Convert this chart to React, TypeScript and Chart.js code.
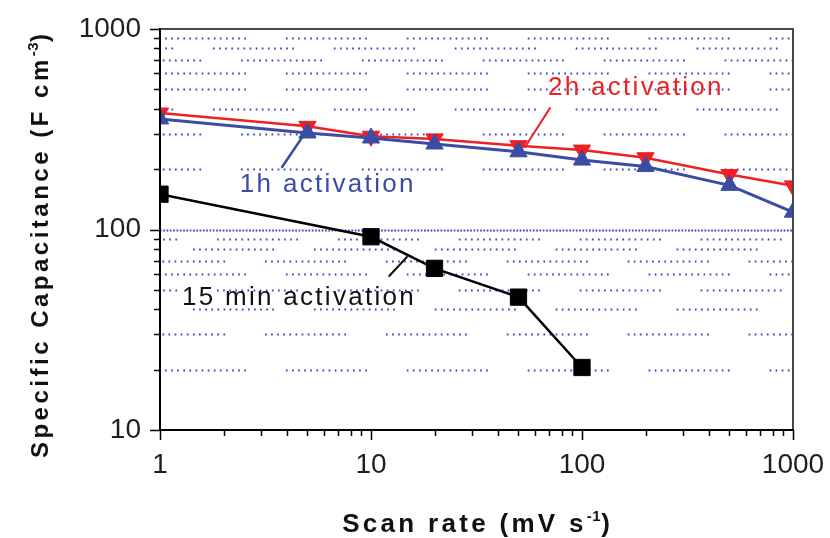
import React, { useEffect, useRef } from 'react';
import { Chart, registerables } from 'chart.js';

Chart.register(...registerables);

// ---- data ----
const scanRates = [1, 5, 10, 20, 50, 100, 200, 500, 1000];
const cap2h = [381, 327, 292, 283, 262, 249, 228, 188, 165];
const cap1h = [356, 303, 286, 267, 244, 222, 206, 166, 122];
const scanRates15 = [1, 10, 20, 50, 100];
const cap15min = [150, 92, 64, 46, 20.5];

const xMajorTicks = [1, 10, 100, 1000];
const yMajorTicks = [10, 100, 1000];
const minorMultipliers = [2, 3, 4, 5, 6, 7, 8, 9];

// annotation texts (anchored in data coordinates: left edge, baseline)
const annoTexts = [
  { text: '2h activation', x: 69, y: 469, color: '#ee1f25' },
  { text: '1h activation', x: 2.39, y: 154, color: '#3a4ca3' },
  { text: '15 min activation', x: 1.27, y: 42, color: '#111111' },
];
const annoLeaders = [
  { x1: 70.5, y1: 403, x2: 53.7, y2: 258, color: '#ee1f25', w: 2 },
  { x1: 4.87, y1: 303, x2: 3.79, y2: 205, color: '#3a4ca3', w: 2.5 },
  { x1: 14.8, y1: 72.9, x2: 12.2, y2: 58.6, color: '#111111', w: 2 },
];

// phases of the dotted background rows (decorative)
const upperPhases: Record<number, number> = { 900: 5, 800: 53, 700: 81, 600: 5, 500: 5, 400: 53, 300: 81, 200: 81 };
const lowerPhases: Record<number, number> = { 90: 57, 80: 33, 70: 105, 60: 5, 50: 57, 40: 33, 30: 105, 20: 5 };

const FONT = "'Liberation Sans', Arial, Helvetica, sans-serif";

type Part = { text: string; font: string; ls: number; rise?: number };

function measureParts(ctx: CanvasRenderingContext2D, parts: Part[]) {
  let w = 0;
  for (const p of parts) {
    ctx.font = p.font;
    (ctx as any).letterSpacing = p.ls + 'px';
    w += ctx.measureText(p.text).width;
  }
  return w;
}

function drawParts(ctx: CanvasRenderingContext2D, parts: Part[], x: number, y: number) {
  let cx = x;
  for (const p of parts) {
    ctx.font = p.font;
    (ctx as any).letterSpacing = p.ls + 'px';
    ctx.fillText(p.text, cx, y - (p.rise || 0));
    cx += ctx.measureText(p.text).width;
  }
}

const customPlugin = {
  id: 'custom',
  beforeDatasetsDraw(chart: any) {
    const { ctx, chartArea, scales } = chart;
    const y = scales.y;
    ctx.save();
    ctx.beginPath();
    ctx.rect(chartArea.left, chartArea.top, chartArea.right - chartArea.left, chartArea.bottom - chartArea.top);
    ctx.clip();
    ctx.strokeStyle = 'rgba(55,55,200,0.95)';
    ctx.lineWidth = 1.8;
    const dotPattern: number[] = [];
    for (let i = 0; i < 13; i++) dotPattern.push(1.7, 4.4);
    dotPattern.push(1.7, 39.9);
    const period = dotPattern.reduce((a, b) => a + b, 0);
    const drawRow = (v: number, phase: number) => {
      const py = Math.round(y.getPixelForValue(v)) + 0.5;
      ctx.setLineDash(dotPattern);
      ctx.lineDashOffset = period - phase;
      ctx.beginPath();
      ctx.moveTo(chartArea.left, py);
      ctx.lineTo(chartArea.right, py);
      ctx.stroke();
    };
    for (const m of minorMultipliers) {
      drawRow(m * 100, upperPhases[m * 100]);
      drawRow(m * 10, lowerPhases[m * 10]);
    }
    // the 100 line: dense dotted
    const p100 = Math.round(y.getPixelForValue(100)) + 0.5;
    ctx.setLineDash([1.7, 1.6]);
    ctx.lineDashOffset = 0;
    ctx.beginPath();
    ctx.moveTo(chartArea.left, p100);
    ctx.lineTo(chartArea.right, p100);
    ctx.stroke();
    ctx.restore();
  },
  afterDraw(chart: any) {
    const { ctx, chartArea, scales } = chart;
    const xs = scales.x;
    const ys = scales.y;
    const { left, right, top, bottom } = chartArea;
    ctx.save();
    ctx.setLineDash([]);
    // frame: top and right grey
    ctx.strokeStyle = '#4a4a4a';
    ctx.lineWidth = 2;
    ctx.beginPath();
    ctx.moveTo(left, top);
    ctx.lineTo(right, top);
    ctx.lineTo(right, bottom);
    ctx.stroke();
    // axes black
    ctx.strokeStyle = '#000';
    ctx.lineWidth = 2;
    ctx.beginPath();
    ctx.moveTo(left, top - 1);
    ctx.lineTo(left, bottom);
    ctx.lineTo(right + 1, bottom);
    ctx.stroke();
    // tick marks
    ctx.lineWidth = 1.5;
    const xTick = (v: number, len: number) => {
      const px = Math.round(xs.getPixelForValue(v)) + 0.5;
      ctx.beginPath();
      ctx.moveTo(px, bottom);
      ctx.lineTo(px, bottom + len);
      ctx.stroke();
    };
    const yTick = (v: number, len: number) => {
      const py = Math.round(ys.getPixelForValue(v)) + 0.5;
      ctx.beginPath();
      ctx.moveTo(left, py);
      ctx.lineTo(left - len, py);
      ctx.stroke();
    };
    for (const v of xMajorTicks) xTick(v, 10);
    for (const d of xMajorTicks.slice(0, -1)) for (const m of minorMultipliers) xTick(d * m, 6);
    for (const v of yMajorTicks) yTick(v, 10);
    for (const d of yMajorTicks.slice(0, -1)) for (const m of minorMultipliers) yTick(d * m, 6);

    // leader lines
    ctx.lineCap = 'round';
    for (const l of annoLeaders) {
      ctx.strokeStyle = l.color;
      ctx.lineWidth = l.w;
      ctx.beginPath();
      ctx.moveTo(xs.getPixelForValue(l.x1), ys.getPixelForValue(l.y1));
      ctx.lineTo(xs.getPixelForValue(l.x2), ys.getPixelForValue(l.y2));
      ctx.stroke();
    }
    // annotation texts
    ctx.textBaseline = 'alphabetic';
    ctx.textAlign = 'left';
    for (const a of annoTexts) {
      ctx.fillStyle = a.color;
      drawParts(ctx, [{ text: a.text, font: `26px ${FONT}`, ls: 2.3 }], xs.getPixelForValue(a.x), ys.getPixelForValue(a.y));
    }

    // axis titles
    ctx.fillStyle = '#111';
    const xParts: Part[] = [
      { text: 'Scan rate (mV s', font: `bold 26px ${FONT}`, ls: 3.3 },
      { text: '-1', font: `bold 15px ${FONT}`, ls: 0.5, rise: 11 },
      { text: ')', font: `bold 26px ${FONT}`, ls: 0 },
    ];
    const xw = measureParts(ctx, xParts);
    drawParts(ctx, xParts, 476 - xw / 2, 532);

    const yParts: Part[] = [
      { text: 'Specific Capacitance (F cm', font: `bold 24px ${FONT}`, ls: 3.5 },
      { text: '-3', font: `bold 15px ${FONT}`, ls: 0.5, rise: 10 },
      { text: ')', font: `bold 24px ${FONT}`, ls: 0 },
    ];
    const yw = measureParts(ctx, yParts);
    ctx.translate(48, 246);
    ctx.rotate(-Math.PI / 2);
    drawParts(ctx, yParts, -yw / 2, 0);
    ctx.restore();
  },
};

export default function App() {
  const canvasRef = useRef<HTMLCanvasElement | null>(null);

  useEffect(() => {
    document.body.style.margin = '0';
    const canvas = canvasRef.current;
    if (!canvas) return;
    Chart.defaults.font.family = FONT;

    const chart = new Chart(canvas, {
      type: 'line',
      data: {
        datasets: [
          {
            label: '1h activation',
            data: scanRates.map((x, i) => ({ x, y: cap1h[i] })),
            borderColor: '#3a4ca3',
            backgroundColor: '#3a4ca3',
            borderWidth: 3,
            pointStyle: 'triangle',
            pointRadius: 10,
            pointBorderWidth: 1,
            tension: 0,
          },
          {
            label: '2h activation',
            data: scanRates.map((x, i) => ({ x, y: cap2h[i] })),
            borderColor: '#ee1f25',
            backgroundColor: '#ee1f25',
            borderWidth: 2.5,
            pointStyle: 'triangle',
            pointRotation: 180,
            pointRadius: 10,
            pointBorderWidth: 1,
            tension: 0,
          },
          {
            label: '15 min activation',
            data: scanRates15.map((x, i) => ({ x, y: cap15min[i] })),
            borderColor: '#000000',
            backgroundColor: '#000000',
            borderWidth: 2.5,
            pointStyle: 'rect',
            pointRadius: 11.5,
            pointBorderWidth: 1,
            tension: 0,
          },
        ],
      },
      options: {
        animation: false,
        responsive: true,
        maintainAspectRatio: false,
        layout: { padding: { top: 29, right: 37, left: 0, bottom: 0 } },
        plugins: {
          legend: { display: false },
          tooltip: { enabled: false },
          title: { display: false },
        },
        scales: {
          x: {
            type: 'logarithmic',
            min: 1,
            max: 1000,
            afterBuildTicks: (s: any) => {
              s.ticks = xMajorTicks.map((v) => ({ value: v }));
            },
            afterFit: (s: any) => {
              s.height = 108;
              s.paddingLeft = 0;
              s.paddingRight = 0;
            },
            grid: { display: false, drawTicks: false },
            border: { display: false },
            ticks: {
              autoSkip: false,
              maxRotation: 0,
              padding: 18,
              color: '#1e1e1e',
              font: { size: 28, family: FONT },
              callback: (v: any) => String(v),
            },
          },
          y: {
            type: 'logarithmic',
            min: 10,
            max: 1000,
            afterBuildTicks: (s: any) => {
              s.ticks = yMajorTicks.map((v) => ({ value: v }));
            },
            afterFit: (s: any) => {
              s.width = 160;
              s.paddingTop = 0;
              s.paddingBottom = 0;
            },
            grid: { display: false, drawTicks: false },
            border: { display: false },
            ticks: {
              autoSkip: false,
              padding: 19,
              color: '#1e1e1e',
              font: { size: 28, family: FONT },
              callback: (v: any) => String(v),
            },
          },
        },
      },
      plugins: [customPlugin],
    } as any);

    return () => chart.destroy();
  }, []);

  return (
    <div style={{ width: 830, height: 538, position: 'relative' }}>
      <canvas ref={canvasRef} />
    </div>
  );
}
